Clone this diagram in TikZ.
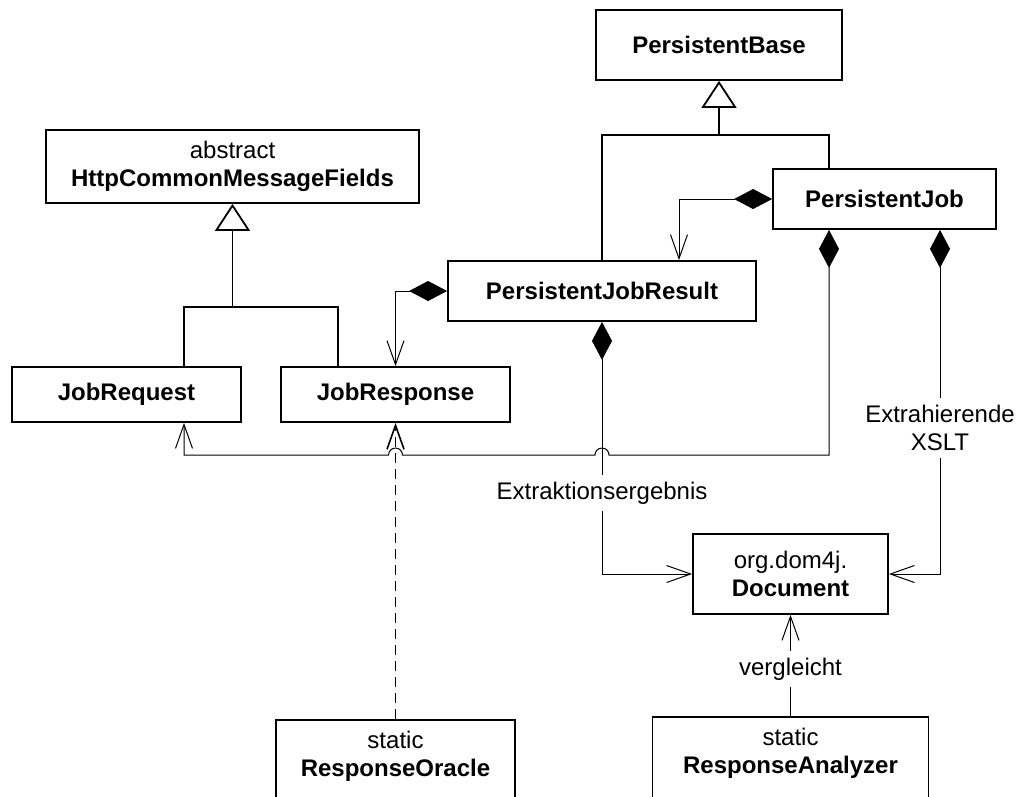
\documentclass[tikz,border=0pt]{standalone}
\usepackage{fontspec}
\setmainfont{Liberation Sans}
\usetikzlibrary{arrows.meta,calc}
\begin{document}
\begin{tikzpicture}[x=1pt,y=-1pt,
  font=\fontsize{24}{28}\selectfont,
  cls/.style={draw,line width=1.8pt,fill=white,align=center,inner sep=0pt},
  txt/.style={align=center,inner sep=0pt},
  lbl/.style={fill=white,align=center,inner xsep=3pt,inner ysep=7pt},
  assoc/.style={line width=1pt},
  openhead/.style={-{Straight Barb[length=24pt,width=17pt]}},
  comp/.style={assoc,{Diamond[length=38pt,width=20pt]}-{Straight Barb[length=24pt,width=17pt]}},
  gen/.style={line width=1.8pt},
  genhead/.style={gen,-{Triangle[open,length=27pt,width=35pt,fill=white]}},
  depend/.style={line width=1.6pt,dash pattern=on 10pt off 6pt,openhead}]
\useasboundingbox (0,0) rectangle (1019,796);
\clip (0,0) rectangle (1019,796);

% classes
\node[cls,minimum width=246pt,minimum height=70pt] (pb) at (719,45) {\textbf{PersistentBase}};
\node[cls,minimum width=223pt,minimum height=60pt] (pj) at (884.5,199) {\textbf{PersistentJob}};
\node[cls,minimum width=308pt,minimum height=60pt] (pjr) at (602,291) {\textbf{PersistentJobResult}};
\node[cls,minimum width=373pt,minimum height=73pt] (hcm) at (232.5,166.5) {abstract\\\textbf{HttpCommonMessageFields}};
\node[cls,minimum width=229pt,minimum height=55pt] (jreq) at (126.5,394.5) {\textbf{JobRequest}};
\node[cls,minimum width=229pt,minimum height=55pt] (jresp) at (395.5,394.5) {\textbf{JobResponse}};
\node[cls,minimum width=195pt,minimum height=80pt] (doc) at (790.5,574) {org.dom4j.\\\textbf{Document}};
\node[cls,anchor=north,minimum width=239pt,minimum height=110pt] (ro) at (395.5,719) {};
\node[txt] (roT) at ($(ro.north)+(0,37)$) {static\\\textbf{ResponseOracle}};
\node[cls,anchor=north,minimum width=276pt,minimum height=110pt] (ra) at (790.5,716) {};
\node[txt] (raT) at ($(ra.north)+(0,37)$) {static\\\textbf{ResponseAnalyzer}};

% attachment points
\coordinate (pbJ) at (719,135);
\coordinate (hcmJ) at (232.5,307);
\coordinate (pjL) at ([xshift=-55.5pt]pj.south);
\coordinate (pjR) at ([xshift=55.5pt]pj.south);
\coordinate (pjT) at ([xshift=-55.5pt]pj.north);
\coordinate (pjrT) at ([xshift=77pt]pjr.north);
\coordinate (jreqT) at ([xshift=57.5pt]jreq.north);
\coordinate (jreqB) at ([xshift=57.5pt]jreq.south);
\coordinate (jrespT) at ([xshift=-57.5pt]jresp.north);
\coordinate (bus) at (829,455);

% generalisations
\draw[gen] (pjr.north) |- (pbJ) -| (pjT);
\draw[genhead] (pbJ) -- (pb.south);
\draw[gen] (jreqT) |- (hcmJ) -| (jrespT);
\draw[genhead] (hcmJ) -- (hcm.south);

% compositions
\draw[comp] (pj.west) -| (pjrT);
\draw[comp] (pjr.west) -| (jresp.north);
\draw[comp] (pjr.south) |- (doc.west);
\draw[comp] (pjR) |- (doc.east);
\draw[dash pattern=on 0pt off 0pt] (0,0);
\draw[comp] (pjL) -- (bus) -- (609,455) arc[start angle=0,end angle=180,radius=7pt]
  -- (402.5,455) arc[start angle=0,end angle=180,radius=7pt]
  -- (jreqB |- bus) -- (jreqB);

% association and dependency
\draw[assoc,openhead] (ra.north) -- (doc.south);
\draw[depend] (ro.north) -- (jresp.south);

% labels
\node[lbl] (lres) at (602,493) {Extraktionsergebnis};
\node[lbl] (lxslt) at (940,428) {Extrahierende\\XSLT};
\node[lbl] (lcmp) at (790.5,669) {vergleicht};
\end{tikzpicture}
\end{document}
